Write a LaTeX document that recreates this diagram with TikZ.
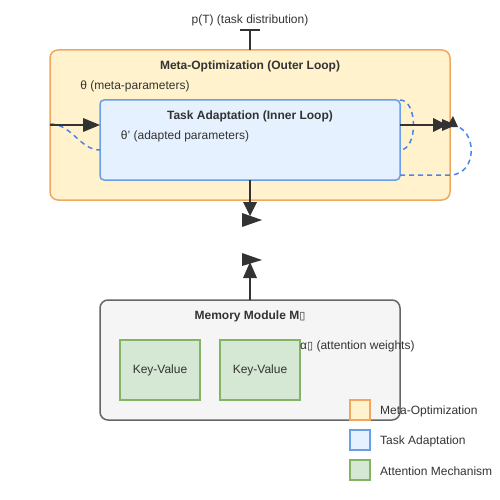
\documentclass[tikz,border=0pt]{standalone}
\usepackage{fontspec}
\setmainfont{Liberation Sans}
\newfontfamily\dvfont{DejaVu Sans}
\usetikzlibrary{arrows.meta}
\definecolor{outerfill}{HTML}{FFF2CC}
\definecolor{outerline}{HTML}{F0A860}
\definecolor{innerfill}{HTML}{E5F1FF}
\definecolor{innerline}{HTML}{6A9EE6}
\definecolor{dashblue}{HTML}{4A86E8}
\definecolor{memfill}{HTML}{F5F5F5}
\definecolor{memline}{HTML}{666666}
\definecolor{kvfill}{HTML}{D5E8D4}
\definecolor{kvline}{HTML}{82B366}
\definecolor{ink}{HTML}{333333}
\begin{document}
\begin{tikzpicture}[x=1pt,y=-1pt,
  txt/.style={text=ink,font=\fontsize{12}{14}\selectfont,inner sep=0pt},
  ttl/.style={txt,font=\fontsize{12}{14}\selectfont\bfseries},
  box/.style={draw,line width=1.5pt,rounded corners=8pt,inner sep=0pt,outer sep=0pt,anchor=north west},
  kv/.style={draw=kvline,fill=kvfill,line width=1.5pt,inner sep=0pt,outer sep=0pt,anchor=north west,minimum width=80pt,minimum height=60pt,txt},
  leg/.style={line width=1.5pt,inner sep=0pt,outer sep=0pt,anchor=north west,minimum width=20pt,minimum height=20pt},
  conn/.style={draw=ink,line width=2pt},
  dsh/.style={draw=dashblue,line width=1.5pt,dash pattern=on 5pt off 4pt},
  tip/.style={fill=ink}]
\useasboundingbox (0,0) rectangle (500,500);

% boxes
\node[box,draw=outerline,fill=outerfill,minimum width=400pt,minimum height=150pt] (outer) at (50,50) {};
\node[box,draw=innerline,fill=innerfill,minimum width=300pt,minimum height=80pt,rounded corners=4pt] (inner) at (100,100) {};
\node[box,draw=memline,fill=memfill,minimum width=300pt,minimum height=120pt] (mem) at (100,300) {};
\node[kv] (kv1) at (120,340) {Key-Value};
\node[kv] (kv2) at (220,340) {Key-Value};

% texts
\node[txt] (pt) at (250,20) {p(T) (task distribution)};
\node[ttl] (otitle) at (250,66) {Meta-Optimization (Outer Loop)};
\node[txt] (theta) at (135,86) {θ (meta-parameters)};
\node[ttl] (ititle) at (250,116) {Task Adaptation (Inner Loop)};
\node[txt] (thetap) at (185,136) {θ' (adapted parameters)};
\node[ttl] (mtitle) at (250,316) {Memory Module M{\dvfont\mdseries\fontsize{11}{12}\selectfont ▯}};
\node[txt,anchor=west] (alpha) at (300,346) {α{\dvfont\fontsize{11}{12}\selectfont ▯} (attention weights)};

% top connector with bar
\coordinate (ptbot) at (250,30);
\draw[conn] (ptbot) -- (outer.north);
\draw[conn] (240,30) -- (260,30);

% left arrow + dashed curve
\coordinate (lin) at (50,125);
\coordinate (lin2) at (84,125);
\draw[dsh] (50,124) .. controls (72,124) and (80,150) .. (100,150);
\draw[conn] (lin) -- (lin2);
\fill[tip] (100,125) -- (83,118) -- (83,132) -- cycle;

% right dashed curves
\draw[dsh] (inner.north east) .. controls (418,100) and (418,150) .. (400,150);
\draw[dsh] (400,175) -- (450,175) .. controls (478,175) and (478,128) .. (452,125);
% right arrow
\coordinate (rout) at (434,125);
\draw[conn] (400,125) -- (rout);
\fill[tip] (447,125) -- (433,118) -- (433,132) -- cycle;
\fill[tip] (456,125) -- (442,119) -- (442,131) -- cycle;
\fill[tip] (453,116) -- (458,127) -- (447,127) -- cycle;

% down arrow
\coordinate (dend) at (250,204);
\draw[conn] (inner.south) -- (dend);
\fill[tip] (250,216) -- (243,202) -- (257,202) -- cycle;
\fill[tip] (262,220) -- (242,213) -- (242,227) -- cycle;

% up arrow
\coordinate (uend) at (250,277);
\draw[conn] (mem.north) -- (uend);
\fill[tip] (250,262) -- (243,278) -- (257,278) -- cycle;
\fill[tip] (262,260) -- (242,253) -- (242,266) -- cycle;

% legend
\node[leg,draw=outerline,fill=outerfill] (l1) at (350,400) {};
\node[leg,draw=innerline,fill=innerfill] (l2) at (350,430) {};
\node[leg,draw=kvline,fill=kvfill] (l3) at (350,460) {};
\node[txt,anchor=west] (t1) at (380,411) {Meta-Optimization};
\node[txt,anchor=west] (t2) at (380,441) {Task Adaptation};
\node[txt,anchor=west] (t3) at (380,471) {Attention Mechanism};
\end{tikzpicture}
\end{document}
